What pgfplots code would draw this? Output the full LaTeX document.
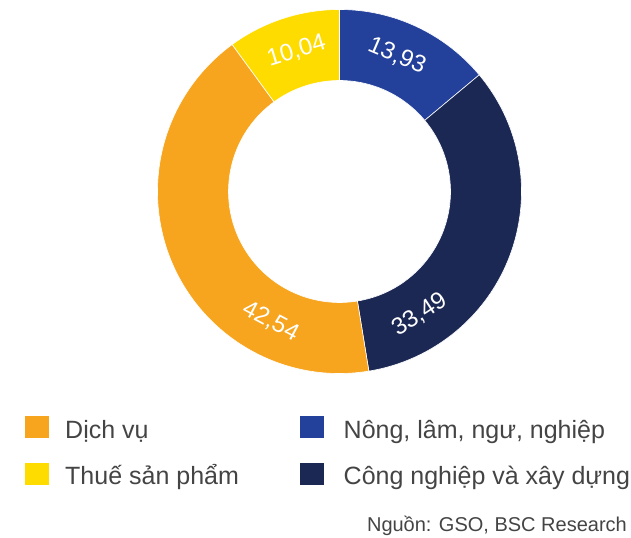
\documentclass[border=0pt]{standalone}
\usepackage{fontspec}
\setmainfont{Liberation Sans}
\usepackage{pgfplots}
\pgfplotsset{compat=1.18}
\definecolor{cBlue}{HTML}{23409A}
\definecolor{cNavy}{HTML}{1B2854}
\definecolor{cOrange}{HTML}{F7A51E}
\definecolor{cYellow}{HTML}{FFDC00}
\definecolor{cText}{HTML}{444444}

% shares (%), clockwise from 12 o'clock
\def\vNong{13.93}
\def\vCong{33.49}
\def\vDich{42.54}
\def\vThue{10.04}

% centre and radii in px of the 631x538 frame (y up)
\def\cx{339.5}
\def\cy{346.5}
\def\Ro{182bp}
\def\Ri{111bp}

\newcommand{\slice}[3]{%
  \fill[#3,draw=white,line width=0.6bp]
    ([shift={(#1:\Ro)}]axis cs:\cx,\cy) arc[start angle=#1,end angle=#2,radius=\Ro]
    -- ([shift={(#2:\Ri)}]axis cs:\cx,\cy) arc[start angle=#2,end angle=#1,radius=\Ri]
    -- cycle;}
\newcommand{\vlabel}[3]{%
  \node[text=white,rotate=#2,inner sep=0pt,font=\fontsize{24bp}{28bp}\selectfont]
    at ([shift={(#1:147bp)}]axis cs:\cx,\cy) {#3};}

\begin{document}
\begin{tikzpicture}
\pgfmathsetmacro{\aA}{90}
\pgfmathsetmacro{\aB}{\aA-3.6*\vNong}
\pgfmathsetmacro{\aC}{\aB-3.6*\vCong}
\pgfmathsetmacro{\aD}{\aC-3.6*\vDich}
\pgfmathsetmacro{\aE}{\aD-3.6*\vThue}
\begin{axis}[
  x=1bp,y=1bp,
  xmin=0,xmax=631,ymin=0,ymax=538,
  scale only axis,
  hide axis,
  clip=false
]
\addplot[draw=none] coordinates {(0,0)(631,538)};
\slice{\aA}{\aB}{cBlue}
\slice{\aB}{\aC}{cNavy}
\slice{\aC}{\aD}{cOrange}
\slice{\aD}{\aE}{cYellow}

\vlabel{67}{-23}{13,93}
\vlabel{-57}{33}{33,49}
\vlabel{-118}{-28}{42,54}
\vlabel{107}{17}{10,04}

% legend
\fill[cOrange] (axis cs:25,100) rectangle (axis cs:49,122);
\fill[cYellow] (axis cs:25,53) rectangle (axis cs:49,75);
\fill[cBlue] (axis cs:299.5,100) rectangle (axis cs:323.5,122);
\fill[cNavy] (axis cs:299.5,53) rectangle (axis cs:323.5,75);
\begin{scope}[every node/.style={anchor=base west,inner sep=0pt,text=cText,font=\fontsize{25bp}{30bp}\selectfont}]
\node at (axis cs:65,99.7) {Dịch vụ};
\node at (axis cs:65,53) {Thuế sản phẩm};
\node at (axis cs:343.5,99.7) {Nông, lâm, ngư, nghiệp};
\node at (axis cs:343.5,53) {Công nghiệp và xây dựng};
\end{scope}
\node[anchor=base east,inner sep=0pt,text=cText,font=\fontsize{20bp}{24bp}\selectfont]
  at (axis cs:627,6) {Nguồn: GSO, BSC Research};
\end{axis}
\end{tikzpicture}
\end{document}
